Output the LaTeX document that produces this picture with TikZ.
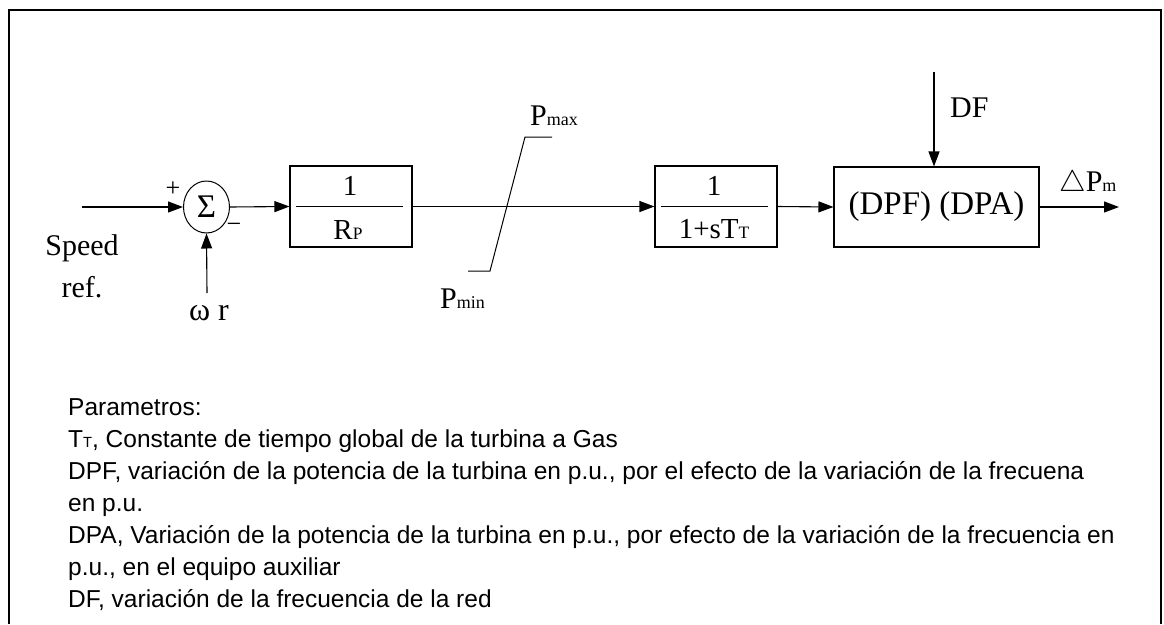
\documentclass[tikz,border=0pt]{standalone}
\usepackage{fontspec}
\setmainfont{Liberation Serif}
\newfontfamily\notefont{Liberation Sans}
\usetikzlibrary{arrows.meta,shapes.geometric}
\newcommand{\lsub}[1]{\scalebox{0.6}{#1}}

\begin{document}
\begin{tikzpicture}[x=1pt,y=-1pt,
    sig/.style={line width=1.1pt,-{Triangle[length=15pt,width=11pt]}},
    blockbox/.style={draw,line width=1.1pt,minimum width=122pt,minimum height=81pt,inner sep=0pt},
    lbl/.style={inner sep=0pt,font=\fontsize{30}{36}\selectfont},
    frac/.style={inner sep=0pt,font=\fontsize{29}{34}\selectfont},
    note/.style={inner sep=0pt,anchor=base west,font=\notefont\fontsize{24.5}{32}\selectfont}]
  \useasboundingbox (0,0) rectangle (1164,624);
  % frame, open at the bottom
  \draw[line width=2.5pt] (9,624) -- (9,10) -- (1161,10) -- (1161,624);

  % summing junction
  \node[draw,ellipse,line width=1pt,minimum width=46pt,minimum height=52pt,inner sep=0pt,
        font=\fontsize{33}{36}\selectfont] (sum) at (206.5,207) {Σ};
  \node[inner sep=0pt,font=\fontsize{26}{28}\selectfont] (plus) at (173,189) {+};
  \node[inner sep=0pt,font=\fontsize{26}{28}\selectfont] (minus) at (234,228) {−};
  \coordinate (spd) at (82,207);
  \coordinate (wr) at (207,293);
  \draw[sig] (spd) -- (sum.west);
  \draw[sig] (wr) -- (sum.south);
  \node[lbl,anchor=base] (speed) at (82,255) {Speed};
  \node[lbl,anchor=base] (ref) at (82,297) {ref.};
  \node[lbl,anchor=base,font=\fontsize{32}{36}\selectfont] (omega) at (209,320) {ω r};

  % droop block
  \node[blockbox] (rp) at (351,206.5) {};
  \draw[line width=1.1pt] ([xshift=7pt]rp.west) -- ([xshift=-10pt]rp.east);
  \node[frac,anchor=base] (rpnum) at (350,195) {1};
  \node[frac,anchor=base] (rpden) at (348,239) {R\lsub{P}};
  \draw[sig] (sum.east) -- (rp.west);

  % limiter
  \draw[line width=1pt] (468,271) -- (490,271) -- (525,137) -- (552,137);
  \node[lbl,anchor=base west] (pmax) at (530,125) {P\lsub{max}};
  \node[lbl,anchor=base west] (pmin) at (440,308) {P\lsub{min}};

  % turbine block
  \node[blockbox] (tt) at (716,206.5) {};
  \draw[line width=1.1pt] ([xshift=7pt]tt.west) -- ([xshift=-10pt]tt.east);
  \node[frac,anchor=base] (ttnum) at (714,195) {1};
  \node[frac,anchor=base] (ttden) at (714,238) {1+sT\lsub{T}};
  \draw[sig] (rp.east) -- (tt.west);

  % frequency effect block
  \node[blockbox,minimum width=205pt,minimum height=80pt,font=\fontsize{33}{38}\selectfont]
        (dpa) at (936.5,207) {(DPF) (DPA)};
  \draw[sig] (tt.east) -- (dpa.west);
  \coordinate (dftop) at (934,72);
  \draw[sig] (dftop) -- (dftop |- dpa.north);
  \node[lbl,anchor=base west] (df) at (950,117) {DF};
  \coordinate (pm) at (1119,207);
  \draw[sig] (dpa.east) -- (pm);
  \node[lbl,anchor=base west] (dpm) at (1059,191) {\scalebox{1.2}{$\triangle$}P\lsub{m}};

  % parameter list
  \foreach \txt [count=\i] in {{Parametros:},
      {T\lsub{T}, Constante de tiempo global de la turbina a Gas},
      {DPF, variación de la potencia de la turbina en p.u., por el efecto de la variación de la frecuena},
      {en p.u.},
      {DPA, Variación de la potencia de la turbina en p.u., por efecto de la variación de la frecuencia en},
      {p.u., en el equipo auxiliar},
      {DF, variación de la frecuencia de la red}}
    \node[note] (note\i) at (68,383+32*\i) {\txt};
\end{tikzpicture}
\end{document}
